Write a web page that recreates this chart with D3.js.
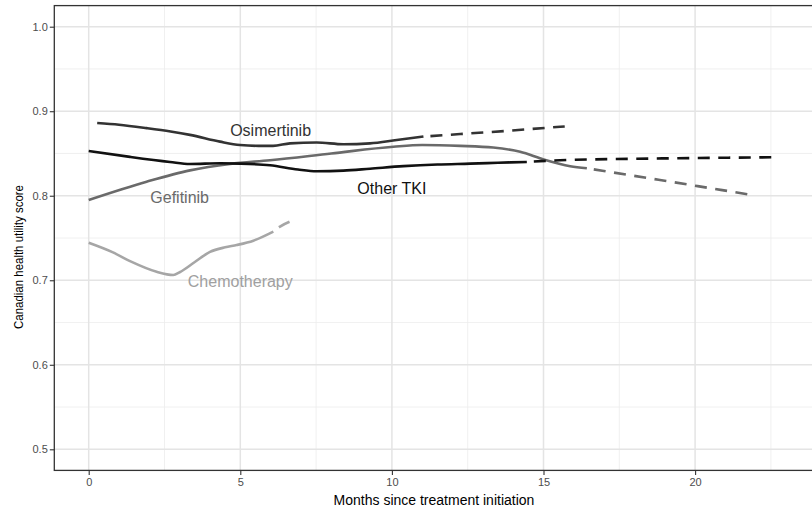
<!DOCTYPE html>
<html>
<head>
<meta charset="utf-8">
<script src="https://cdn.jsdelivr.net/npm/d3@7"></script>
<style>
  html, body { margin: 0; padding: 0; background: #fff; }
  svg { display: block; font-family: "Liberation Sans", Arial, Helvetica, sans-serif; }
</style>
</head>
<body>
<svg id="chart" width="812" height="508"></svg>
<script>
// ---------- data ----------
const xTicks = [0, 5, 10, 15, 20];
const yTicks = [0.5, 0.6, 0.7, 0.8, 0.9, 1.0];
const xMinor = [2.5, 7.5, 12.5, 17.5, 22.5];
const yMinor = [0.55, 0.65, 0.75, 0.85, 0.95];

const osiSolidM = [0.28, 1.0, 1.91, 2.7, 3.34, 4.33, 4.99, 5.6, 6.08, 6.64, 7.52, 8.40, 9.28, 10.16, 11.04];
const osiSolidV = [0.886, 0.884, 0.880, 0.876, 0.872, 0.864, 0.860, 0.859, 0.859, 0.862, 0.863, 0.861, 0.862, 0.866, 0.870];
const osiDashM = [11.04, 12.25, 13.9, 15.32, 15.7];
const osiDashV = [0.870, 0.873, 0.877, 0.881, 0.882];

const tkiSolidM = [0, 1.36, 2.68, 3.34, 4.33, 4.99, 5.98, 6.9, 7.52, 8.40, 9.28, 10.38, 11.5, 12.58, 13.5, 14.45];
const tkiSolidV = [0.853, 0.846, 0.840, 0.8376, 0.8384, 0.838, 0.836, 0.831, 0.829, 0.8297, 0.832, 0.835, 0.837, 0.838, 0.839, 0.840];
const tkiDashM = [14.45, 15.54, 18.62, 22.66];
const tkiDashV = [0.840, 0.842, 0.844, 0.8455];

const gefSolidM = [0, 1.91, 3.34, 4.66, 5.98, 8.0, 10.05, 11.0, 12.25, 13.34, 14.23, 15.0, 15.88, 16.43];
const gefSolidV = [0.795, 0.8166, 0.830, 0.8376, 0.842, 0.850, 0.858, 0.860, 0.859, 0.857, 0.852, 0.843, 0.835, 0.8325];
const gefDashM = [16.43, 18.84, 21.87];
const gefDashV = [0.8325, 0.8186, 0.801];

const chemoSolidM = [0, 0.8, 1.4, 2.24, 2.79, 3.0, 3.5, 4.0, 4.5, 4.88, 5.43, 6.09];
const chemoSolidV = [0.7444, 0.733, 0.722, 0.710, 0.7062, 0.7095, 0.7216, 0.7335, 0.739, 0.7417, 0.7468, 0.7575];
const chemoDashM = [6.09, 6.31, 6.75];
const chemoDashV = [0.7575, 0.7634, 0.771];

const seriesNames = ["Osimertinib", "Other TKI", "Gefitinib", "Chemotherapy"];
const labelM = [6.0, 10.0, 3.0, 5.0];
const labelV = [0.8755, 0.8075, 0.7965, 0.6975];

// ---------- styles ----------
const colors = ["#333333", "#111111", "#6a6a6a", "#a6a6a6"];
const labelColors = ["#333333", "#111111", "#6a6a6a", "#a0a0a0"];

const svg = d3.select("#chart");
const x = d3.scaleLinear().domain([0, 20]).range([88.7, 695.1]);
const y = d3.scaleLinear().domain([0.5, 1.0]).range([449.3, 26.7]);

const panel = { left: 54.3, right: 830, top: 5.6, bottom: 470.4 };

// grid
const g = svg.append("g");
g.selectAll(".ymin").data(yMinor).join("line")
  .attr("x1", panel.left).attr("x2", panel.right)
  .attr("y1", d => y(d)).attr("y2", d => y(d))
  .attr("stroke", "#ececec").attr("stroke-width", 0.8);
g.selectAll(".xmin").data(xMinor).join("line")
  .attr("y1", panel.top).attr("y2", panel.bottom)
  .attr("x1", d => x(d)).attr("x2", d => x(d))
  .attr("stroke", "#ececec").attr("stroke-width", 0.8);
g.selectAll(".ymaj").data(yTicks).join("line")
  .attr("x1", panel.left).attr("x2", panel.right)
  .attr("y1", d => y(d)).attr("y2", d => y(d))
  .attr("stroke", "#e4e4e4").attr("stroke-width", 1.5);
g.selectAll(".xmaj").data(xTicks).join("line")
  .attr("y1", panel.top).attr("y2", panel.bottom)
  .attr("x1", d => x(d)).attr("x2", d => x(d))
  .attr("stroke", "#e4e4e4").attr("stroke-width", 1.5);

// lines
const line = d3.line().x(d => x(d[0])).y(d => y(d[1])).curve(d3.curveMonotoneX);
const zip = (a, b) => a.map((m, i) => [m, b[i]]);
const solids = [zip(osiSolidM, osiSolidV), zip(tkiSolidM, tkiSolidV), zip(gefSolidM, gefSolidV), zip(chemoSolidM, chemoSolidV)];
const dashes = [zip(osiDashM, osiDashV), zip(tkiDashM, tkiDashV), zip(gefDashM, gefDashV), zip(chemoDashM, chemoDashV)];
const order = [3, 2, 0, 1];
order.forEach(i => {
  svg.append("path").attr("d", line(solids[i])).attr("fill", "none")
    .attr("stroke", colors[i]).attr("stroke-width", 2.6);
  svg.append("path").attr("d", line(dashes[i])).attr("fill", "none")
    .attr("stroke", colors[i]).attr("stroke-width", 2.6)
    .attr("stroke-dasharray", "12,8.5").attr("stroke-dashoffset", 13.5);
});

// labels
svg.selectAll(".lab").data(seriesNames).join("text")
  .attr("x", (d, i) => x(labelM[i])).attr("y", (d, i) => y(labelV[i]))
  .attr("text-anchor", "middle").attr("dominant-baseline", "middle")
  .attr("font-size", 16).attr("fill", (d, i) => labelColors[i])
  .text(d => d);

// panel border
svg.append("rect").attr("x", panel.left).attr("y", panel.top)
  .attr("width", panel.right - panel.left).attr("height", panel.bottom - panel.top)
  .attr("fill", "none").attr("stroke", "#333333").attr("stroke-width", 1.3);

// axes
const xAxis = svg.append("g").attr("transform", `translate(0,${panel.bottom})`)
  .call(d3.axisBottom(x).tickValues(xTicks).tickSize(4.5).tickPadding(3).tickFormat(d3.format("d")));
const yAxis = svg.append("g").attr("transform", `translate(${panel.left},0)`)
  .call(d3.axisLeft(y).tickValues(yTicks).tickSize(4.5).tickPadding(2).tickFormat(d3.format(".1f")));
[xAxis, yAxis].forEach(a => {
  a.select(".domain").remove();
  a.selectAll(".tick line").attr("stroke", "#333333").attr("stroke-width", 1.1);
  a.selectAll(".tick text").attr("fill", "#4d4d4d").attr("font-size", 11)
    .attr("font-family", "'Liberation Sans', Arial, sans-serif");
});

// titles
svg.append("text").attr("x", 434).attr("y", 505)
  .attr("text-anchor", "middle").attr("font-size", 14).attr("fill", "#000")
  .text("Months since treatment initiation");
svg.append("text").attr("transform", "translate(23,257) rotate(-90)")
  .attr("text-anchor", "middle").attr("font-size", 13.5).attr("fill", "#000")
  .attr("textLength", 144).attr("lengthAdjust", "spacingAndGlyphs")
  .text("Canadian health utility score");
</script>
</body>
</html>
